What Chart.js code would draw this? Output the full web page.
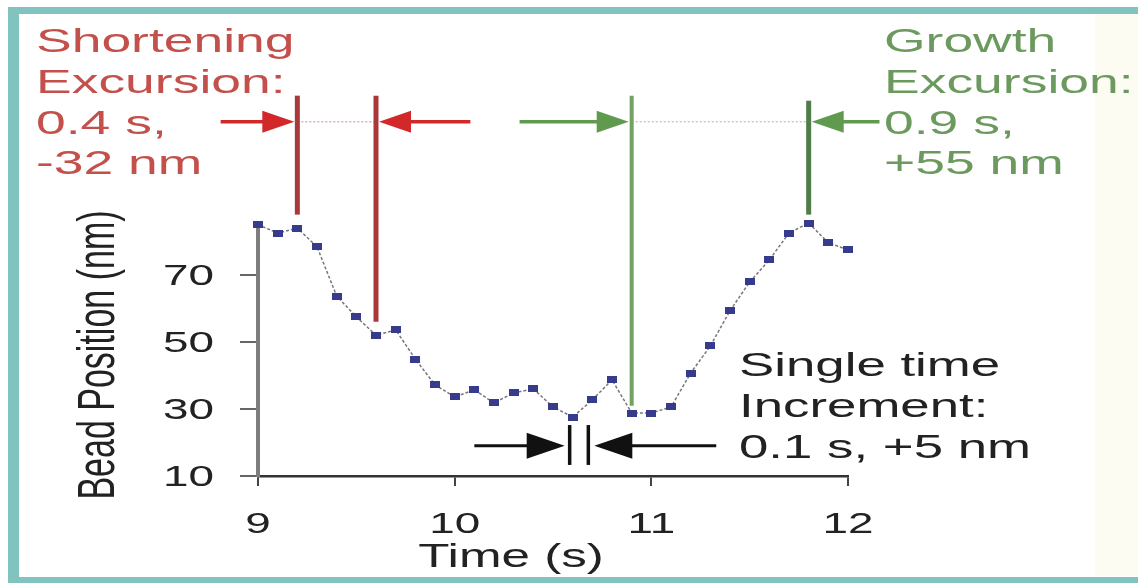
<!DOCTYPE html>
<html>
<head>
<meta charset="utf-8">
<script src="https://cdn.jsdelivr.net/npm/chart.js@4.4.1/dist/chart.umd.min.js"></script>
<style>
  html, body { margin: 0; padding: 0; background: #fff; overflow: hidden; }
  canvas { display: block; }
</style>
</head>
<body>
<canvas id="chart" width="1138" height="585"></canvas>
<script>
// --- data ---
const times = [9.0, 9.1, 9.2, 9.3, 9.4, 9.5, 9.6, 9.7, 9.8, 9.9,
               10.0, 10.1, 10.2, 10.3, 10.4, 10.5, 10.6, 10.7, 10.8, 10.9,
               11.0, 11.1, 11.2, 11.3, 11.4, 11.5, 11.6, 11.7, 11.8, 11.9, 12.0];
const positions = [85, 82.5, 84, 78.4, 63.7, 57.5, 52, 53.6, 44.9, 37.2,
                   33.6, 35.7, 31.8, 34.8, 36, 30.6, 27.6, 32.7, 38.7, 28.8,
                   28.8, 30.6, 40.7, 48.8, 59.3, 67.9, 74.5, 82.5, 85.5, 79.6, 77.5];
const xTicks = [9, 10, 11, 12];
const yTicks = [10, 30, 50, 70];
const xTickLabels = ['9', '10', '11', '12'];
const yTickLabels = ['10', '30', '50', '70'];

// annotation marks (in data units)
const shortTimes = [9.2, 9.6];
const shortLineBottoms = [88, 56];
const growthTimes = [10.9, 11.8];
const growthLineBottoms = [31, 88];
const incrementTimes = [10.6, 10.7];
const shortLabel = ['Shortening', 'Excursion:', '0.4 s,', '-32 nm'];
const growthLabel = ['Growth', 'Excursion:', '0.9 s,', '+55 nm'];
const incrementLabel = ['Single time', 'Increment:', '0.1 s, +5 nm'];

const FONT = '"Liberation Sans", Arial, sans-serif';

// flat blue square marker
const marker = document.createElement('canvas');
marker.width = 10; marker.height = 7;
const mctx = marker.getContext('2d');
mctx.fillStyle = '#373b8c';
mctx.fillRect(0, 0, 10, 7);

function stext(ctx, str, x, y, size, color, align, sx) {
  ctx.save();
  ctx.translate(x, y);
  ctx.scale(sx, 1);
  ctx.font = size + 'px ' + FONT;
  ctx.fillStyle = color;
  ctx.textAlign = align;
  ctx.textBaseline = 'alphabetic';
  ctx.fillText(str, 0, 0);
  ctx.restore();
}

function arrow(ctx, xTail, xTip, y, color, lw, headLen, headHalf) {
  const dir = xTip > xTail ? 1 : -1;
  ctx.save();
  ctx.strokeStyle = color;
  ctx.fillStyle = color;
  ctx.lineWidth = lw;
  ctx.beginPath();
  ctx.moveTo(xTail, y);
  ctx.lineTo(xTip - dir * headLen * 0.8, y);
  ctx.stroke();
  ctx.beginPath();
  ctx.moveTo(xTip, y);
  ctx.lineTo(xTip - dir * headLen, y - headHalf);
  ctx.lineTo(xTip - dir * headLen, y + headHalf);
  ctx.closePath();
  ctx.fill();
  ctx.restore();
}

function vline(ctx, x, y1, y2, color, lw) {
  ctx.save();
  ctx.strokeStyle = color;
  ctx.lineWidth = lw;
  ctx.beginPath();
  ctx.moveTo(x, y1);
  ctx.lineTo(x, y2);
  ctx.stroke();
  ctx.restore();
}

function dotted(ctx, x1, x2, y, color) {
  ctx.save();
  ctx.strokeStyle = color;
  ctx.lineWidth = 1;
  ctx.setLineDash([2, 2]);
  ctx.beginPath();
  ctx.moveTo(x1, y);
  ctx.lineTo(x2, y);
  ctx.stroke();
  ctx.restore();
}

const framePlugin = {
  id: 'frame',
  beforeDraw(chart) {
    const ctx = chart.ctx;
    ctx.save();
    ctx.fillStyle = '#ffffff';
    ctx.fillRect(0, 0, chart.width, chart.height);
    ctx.fillStyle = '#fcfcf3';
    ctx.fillRect(1095, 14, 43, 562);
    ctx.fillStyle = '#80c3bf';
    ctx.fillRect(8, 7, 1130, 7);
    ctx.fillRect(8, 7, 11, 576);
    ctx.fillRect(8, 577, 1130, 6);
    ctx.restore();
  },
  afterDraw(chart) {
    const ctx = chart.ctx;
    const xs = chart.scales.x, ys = chart.scales.y;
    const px = v => xs.getPixelForValue(v);
    const py = v => ys.getPixelForValue(v);

    // tick labels
    xs.ticks.forEach((t, i) => {
      stext(ctx, xTickLabels[i], px(t.value), 533, 29, '#222', 'center', 1.58);
    });
    ys.ticks.forEach((t, i) => {
      stext(ctx, yTickLabels[i], 214, py(t.value) + 10, 29, '#222', 'right', 1.58);
    });

    // axis titles
    stext(ctx, 'Time (s)', 511, 567, 33, '#222', 'center', 1.55);
    ctx.save();
    ctx.translate(114, 355);
    ctx.rotate(-Math.PI / 2);
    ctx.scale(1, 1.55);
    ctx.font = '34px ' + FONT;
    ctx.fillStyle = '#222';
    ctx.textAlign = 'center';
    ctx.textBaseline = 'alphabetic';
    ctx.fillText('Bead Position (nm)', 0, 0);
    ctx.restore();

    const topY = py(123.5);
    const arrowY = py(115.7);

    // shortening excursion
    dotted(ctx, px(shortTimes[0]), px(shortTimes[1]), arrowY, '#c98a86');
    vline(ctx, px(shortTimes[0]), topY, py(shortLineBottoms[0]), '#a8383a', 5);
    vline(ctx, px(shortTimes[1]), topY, py(shortLineBottoms[1]), '#a8383a', 5);
    arrow(ctx, px(8.81), px(shortTimes[0]) - 3, arrowY, '#d2282a', 3.5, 32, 11);
    arrow(ctx, px(10.08), px(shortTimes[1]) + 3, arrowY, '#d2282a', 3.5, 32, 11);

    // growth excursion
    dotted(ctx, px(growthTimes[0]), px(growthTimes[1]), arrowY, '#9ab890');
    vline(ctx, px(growthTimes[0]), topY, py(growthLineBottoms[0]), '#73a063', 4);
    vline(ctx, px(growthTimes[1]), py(122), py(growthLineBottoms[1]), '#4f7d47', 5);
    arrow(ctx, px(10.33), px(growthTimes[0]) - 3, arrowY, '#5f9a4f', 3.5, 32, 11);
    arrow(ctx, px(12.16), px(growthTimes[1]) + 3, arrowY, '#5f9a4f', 3.5, 32, 11);

    // single time increment
    const incY = py(19);
    vline(ctx, px(incrementTimes[0]) - 3, py(25.2), py(13.3), '#111', 3.5);
    vline(ctx, px(incrementTimes[1]) - 4, py(25.2), py(13.3), '#111', 3.5);
    arrow(ctx, px(10.1), px(incrementTimes[0]) - 8, incY, '#111', 3, 38, 13);
    arrow(ctx, px(11.33), px(incrementTimes[1]) + 2, incY, '#111', 3, 38, 13);

    // labels
    const base = [52, 93, 134, 174];
    shortLabel.forEach((s, i) => stext(ctx, s, 36, base[i], 33, '#c4504b', 'left', 1.62));
    growthLabel.forEach((s, i) => stext(ctx, s, 884, base[i], 33, '#6c9a5e', 'left', 1.62));
    const ibase = [376, 417, 458];
    incrementLabel.forEach((s, i) => stext(ctx, s, 739, ibase[i], 33, '#222', 'left', 1.6));
  }
};

new Chart(document.getElementById('chart'), {
  type: 'line',
  data: {
    datasets: [{
      data: times.map((t, i) => ({ x: t, y: positions[i] })),
      borderColor: '#777',
      borderWidth: 1.5,
      borderDash: [3, 2],
      pointStyle: marker,
      pointRadius: 5,
      tension: 0,
      clip: false
    }]
  },
  options: {
    responsive: false,
    animation: false,
    devicePixelRatio: 1,
    layout: { padding: { left: 0, top: 223, right: 290, bottom: 0 } },
    plugins: { legend: { display: false }, tooltip: { enabled: false } },
    scales: {
      x: {
        type: 'linear',
        min: 9, max: 12,
        afterBuildTicks: s => { s.ticks = xTicks.map(v => ({ value: v })); },
        afterFit: s => { s.height = 109; },
        ticks: { display: false },
        grid: { drawOnChartArea: false, tickLength: 10, color: '#444', lineWidth: 2 },
        border: { color: '#333', width: 2.5 }
      },
      y: {
        min: 10, max: 85.5,
        afterBuildTicks: s => { s.ticks = yTicks.map(v => ({ value: v })); },
        afterFit: s => { s.width = 258; },
        ticks: { display: false },
        grid: { drawOnChartArea: false, tickLength: 18, color: '#666', lineWidth: 2 },
        border: { color: '#7d7d7d', width: 4 }
      }
    }
  },
  plugins: [framePlugin]
});
</script>
</body>
</html>
